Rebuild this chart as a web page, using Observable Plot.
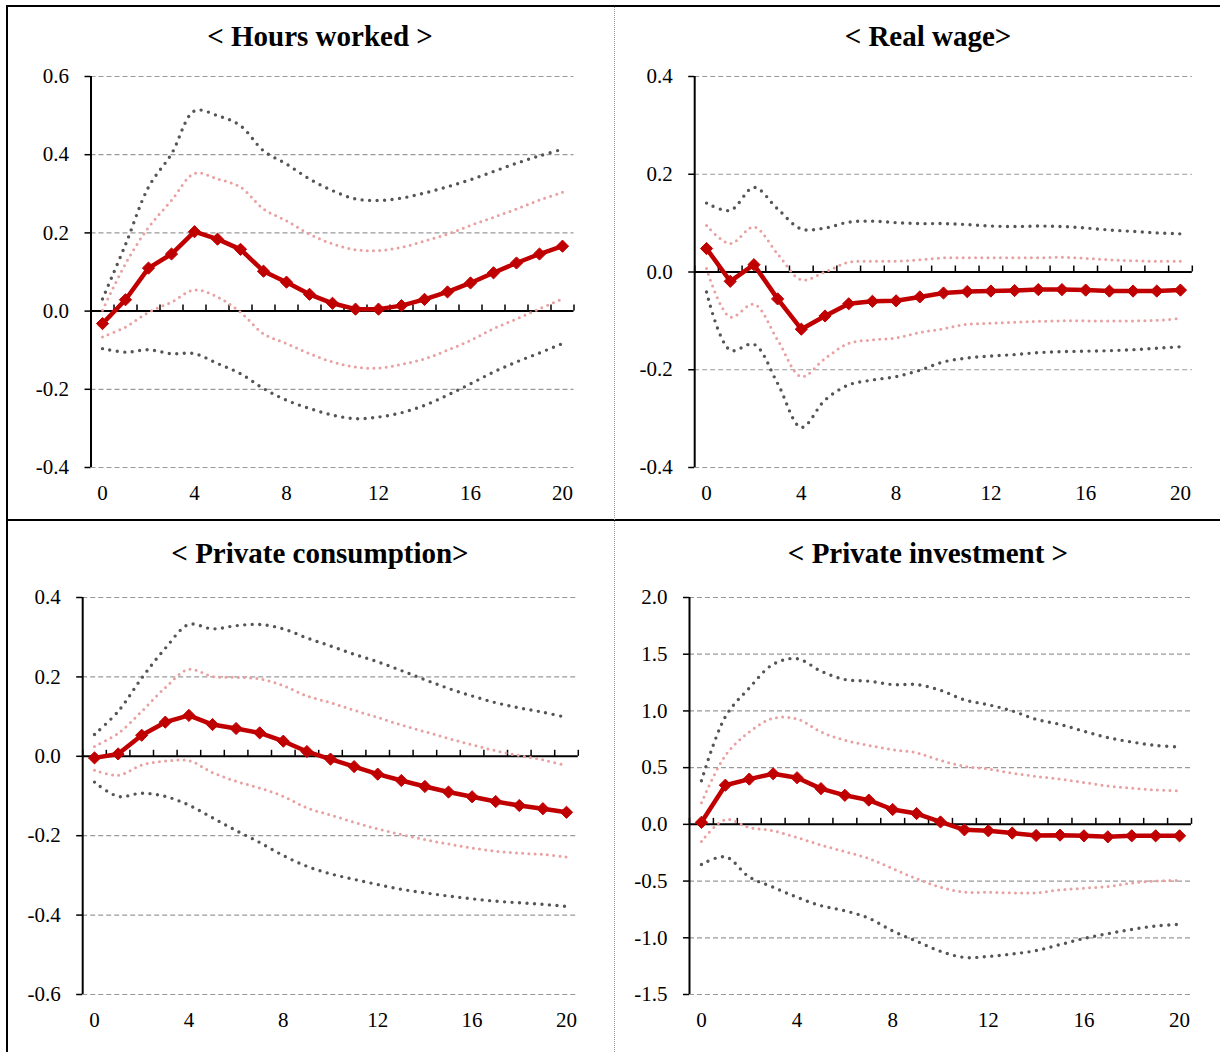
<!DOCTYPE html>
<html>
<head>
<meta charset="utf-8">
<script src="https://cdn.jsdelivr.net/npm/d3@7"></script>
<script src="https://cdn.jsdelivr.net/npm/@observablehq/plot@0.6"></script>
<style>
  html, body { margin: 0; padding: 0; background: #fff; }
  #page { position: relative; width: 1220px; height: 1052px; overflow: hidden; background: #fff;
          font-family: "Liberation Serif", "Times New Roman", serif; }
  #page svg, #page svg text { font-family: "Liberation Serif", "Times New Roman", serif !important; }
  .panel { position: absolute; }
  .title { position: absolute; font-weight: bold; font-size: 29px; line-height: 29px;
           white-space: nowrap; transform: translateX(-50%); color: #000; }
  .line { position: absolute; }
</style>
</head>
<body>
<div id="page"></div>
<script>
// ---------- data ----------
const periods = [0,1,2,3,4,5,6,7,8,9,10,11,12,13,14,15,16,17,18,19,20];
const xTicks = [0, 4, 8, 12, 16, 20];

const hoursTicks = [-0.4, -0.2, 0, 0.2, 0.4, 0.6];
const hoursIRF  = [-0.032,0.029,0.110,0.146,0.203,0.184,0.158,0.102,0.074,0.043,0.020,0.005,0.005,0.014,0.030,0.049,0.072,0.098,0.123,0.146,0.166];
const hoursUp90 = [0.031,0.170,0.317,0.402,0.512,0.500,0.474,0.410,0.376,0.338,0.308,0.287,0.283,0.289,0.302,0.318,0.336,0.357,0.378,0.397,0.414];
const hoursUp68 = [0.002,0.121,0.214,0.283,0.352,0.338,0.317,0.261,0.231,0.197,0.172,0.157,0.155,0.163,0.179,0.197,0.219,0.240,0.261,0.284,0.304];
const hoursLo68 = [-0.066,-0.041,-0.003,0.023,0.054,0.036,-0.003,-0.058,-0.083,-0.109,-0.130,-0.143,-0.146,-0.136,-0.122,-0.100,-0.075,-0.045,-0.020,0.006,0.031];
const hoursLo90 = [-0.096,-0.105,-0.099,-0.109,-0.109,-0.134,-0.160,-0.198,-0.228,-0.249,-0.266,-0.275,-0.271,-0.260,-0.241,-0.215,-0.186,-0.156,-0.130,-0.107,-0.083];

const wageTicks = [-0.4, -0.2, 0, 0.2, 0.4];
const wageIRF  = [0.048,-0.019,0.015,-0.055,-0.117,-0.090,-0.065,-0.060,-0.059,-0.051,-0.043,-0.040,-0.039,-0.038,-0.036,-0.036,-0.037,-0.039,-0.039,-0.039,-0.037];
const wageUp90 = [0.141,0.126,0.173,0.129,0.088,0.090,0.102,0.104,0.101,0.099,0.099,0.097,0.094,0.093,0.094,0.093,0.090,0.086,0.083,0.080,0.078];
const wageUp68 = [0.095,0.058,0.092,0.037,-0.016,0.000,0.020,0.022,0.022,0.025,0.029,0.029,0.029,0.029,0.029,0.030,0.028,0.025,0.023,0.022,0.022];
const wageLo68 = [0.007,-0.092,-0.066,-0.139,-0.214,-0.177,-0.146,-0.139,-0.135,-0.124,-0.116,-0.107,-0.105,-0.103,-0.101,-0.100,-0.100,-0.100,-0.100,-0.099,-0.095];
const wageLo90 = [-0.041,-0.160,-0.148,-0.228,-0.318,-0.262,-0.231,-0.221,-0.214,-0.201,-0.184,-0.176,-0.172,-0.169,-0.165,-0.163,-0.162,-0.161,-0.159,-0.156,-0.153];

const consTicks = [-0.6, -0.4, -0.2, 0, 0.2, 0.4];
const consIRF  = [-0.004,0.006,0.053,0.086,0.103,0.080,0.070,0.059,0.038,0.012,-0.007,-0.026,-0.045,-0.061,-0.076,-0.090,-0.102,-0.114,-0.124,-0.132,-0.141];
const consUp90 = [0.055,0.113,0.197,0.272,0.332,0.321,0.329,0.332,0.321,0.298,0.278,0.257,0.238,0.216,0.193,0.171,0.152,0.135,0.122,0.111,0.098];
const consUp68 = [0.025,0.058,0.113,0.173,0.219,0.201,0.199,0.195,0.178,0.152,0.135,0.116,0.098,0.079,0.062,0.045,0.029,0.014,0.002,-0.009,-0.024];
const consLo68 = [-0.035,-0.048,-0.022,-0.012,-0.011,-0.041,-0.063,-0.080,-0.101,-0.130,-0.148,-0.166,-0.183,-0.197,-0.210,-0.221,-0.231,-0.239,-0.244,-0.247,-0.254];
const consLo90 = [-0.065,-0.101,-0.093,-0.101,-0.123,-0.155,-0.187,-0.217,-0.250,-0.277,-0.296,-0.310,-0.323,-0.335,-0.344,-0.352,-0.359,-0.365,-0.369,-0.373,-0.378];

const invTicks = [-1.5, -1.0, -0.5, 0, 0.5, 1.0, 1.5, 2.0];
const invIRF  = [0.018,0.345,0.399,0.446,0.411,0.315,0.256,0.214,0.131,0.095,0.021,-0.048,-0.057,-0.077,-0.098,-0.095,-0.101,-0.110,-0.101,-0.101,-0.101];
const invUp90 = [0.384,0.949,1.202,1.411,1.461,1.351,1.277,1.262,1.232,1.232,1.182,1.098,1.054,1.000,0.926,0.881,0.821,0.765,0.726,0.696,0.682];
const invUp68 = [0.190,0.607,0.815,0.935,0.929,0.815,0.741,0.696,0.658,0.631,0.563,0.512,0.488,0.452,0.423,0.399,0.369,0.339,0.318,0.304,0.295];
const invLo68 = [-0.152,0.042,-0.027,-0.057,-0.116,-0.182,-0.241,-0.301,-0.390,-0.479,-0.554,-0.598,-0.598,-0.604,-0.604,-0.577,-0.563,-0.548,-0.518,-0.500,-0.494];
const invLo90 = [-0.354,-0.286,-0.464,-0.554,-0.643,-0.717,-0.762,-0.827,-0.940,-1.030,-1.119,-1.173,-1.164,-1.143,-1.113,-1.060,-1.006,-0.964,-0.926,-0.896,-0.881];

// ---------- layout ----------
const page = document.getElementById("page");

function addLine(style) {
  const d = document.createElement("div");
  d.className = "line";
  Object.assign(d.style, style);
  page.appendChild(d);
}
// outer frame and dividers
addLine({left: "6px", top: "5px", width: "1214px", height: "2px", background: "#000"});
addLine({left: "6px", top: "5px", width: "2px", height: "1047px", background: "#000"});
addLine({left: "6px", top: "519px", width: "1214px", height: "2px", background: "#000"});
addLine({left: "614px", top: "7px", width: "0px", height: "1045px", borderLeft: "1px dotted #9a9a9a"});

function table(irf, up90, up68, lo68, lo90) {
  return periods.map((p, i) => ({p, irf: irf[i], up90: up90[i], up68: up68[i], lo68: lo68[i], lo90: lo90[i]}));
}

const panels = [
  {title: "< Hours worked >", titleX: 320, titleTop: 22, left: 0, top: 60, width: 614, height: 460,
   mL: 90.5, mR: 40.5, mT: 16, mB: 53, ticks: hoursTicks,
   rows: table(hoursIRF, hoursUp90, hoursUp68, hoursLo68, hoursLo90)},
  {title: "< Real wage>", titleX: 928, titleTop: 22, left: 614, top: 60, width: 606, height: 460,
   mL: 80.2, mR: 28.2, mT: 16, mB: 53, ticks: wageTicks,
   rows: table(wageIRF, wageUp90, wageUp68, wageLo68, wageLo90)},
  {title: "< Private consumption>", titleX: 320, titleTop: 539, left: 0, top: 580, width: 614, height: 472,
   mL: 82.2, mR: 36.2, mT: 17, mB: 58, ticks: consTicks,
   rows: table(consIRF, consUp90, consUp68, consLo68, consLo90)},
  {title: "< Private investment >", titleX: 928, titleTop: 539, left: 614, top: 580, width: 606, height: 472,
   mL: 75, mR: 29, mT: 17, mB: 58, ticks: invTicks,
   rows: table(invIRF, invUp90, invUp68, invLo68, invLo90)}
];

const boundaries = periods.map(p => p + 0.5).concat([-0.5]);
const fmt = d => d.toFixed(1);
const DARK = "#555555", PINK = "#E8A0A0", RED = "#C00000";
const SERIF = "'Liberation Serif', 'Times New Roman', serif";

for (const P of panels) {
  const t = document.createElement("div");
  t.className = "title";
  t.textContent = P.title;
  t.style.left = P.titleX + "px";
  t.style.top = P.titleTop + "px";
  page.appendChild(t);

  const y0 = P.ticks[0], y1 = P.ticks[P.ticks.length - 1];
  const band = (key, color, w, dash) =>
    Plot.line(P.rows, {x: "p", y: key, curve: "catmull-rom", stroke: color, strokeWidth: w,
                       strokeDasharray: dash, strokeLinecap: "round"});

  const chart = Plot.plot({
    width: P.width,
    height: P.height,
    marginLeft: P.mL,
    marginRight: P.mR,
    marginTop: P.mT,
    marginBottom: P.mB,
    style: {fontFamily: SERIF, fontSize: "21px", background: "transparent", color: "#000"},
    x: {type: "linear", domain: [-0.5, 20.5]},
    y: {type: "linear", domain: [y0, y1]},
    marks: [
      Plot.ruleY(P.ticks.filter(d => d !== 0), {stroke: "#9a9a9a", strokeWidth: 1.2, strokeDasharray: "5 3"}),
      Plot.ruleX([-0.5], {stroke: "#000", strokeWidth: 2}),
      Plot.ruleY([0], {stroke: "#000", strokeWidth: 2}),
      Plot.ruleX(boundaries, {x: d => d, y1: () => 0, y2: () => 0, insetTop: -6, stroke: "#000", strokeWidth: 1.5}),
      Plot.axisY(P.ticks, {tickSize: 6, tickPadding: 16, tickFormat: fmt, fontSize: 21, fontFamily: SERIF, strokeWidth: 1.5, label: null}),
      Plot.axisX(xTicks, {tickSize: 0, tickPadding: 18, tickFormat: d => String(d), fontSize: 21, fontFamily: SERIF, label: null}),
      band("up90", DARK, 3.4, "0 7.5"),
      band("lo90", DARK, 3.4, "0 7.5"),
      band("up68", PINK, 3, "0 6.2"),
      band("lo68", PINK, 3, "0 6.2"),
      Plot.line(P.rows, {x: "p", y: "irf", stroke: RED, strokeWidth: 4.5, strokeLinejoin: "round"}),
      Plot.dot(P.rows, {x: "p", y: "irf", symbol: "diamond2", r: 5.5, fill: RED, stroke: RED, strokeWidth: 1})
    ]
  });
  chart.classList.add("panel");
  chart.style.left = P.left + "px";
  chart.style.top = P.top + "px";
  page.appendChild(chart);
}
</script>
</body>
</html>
